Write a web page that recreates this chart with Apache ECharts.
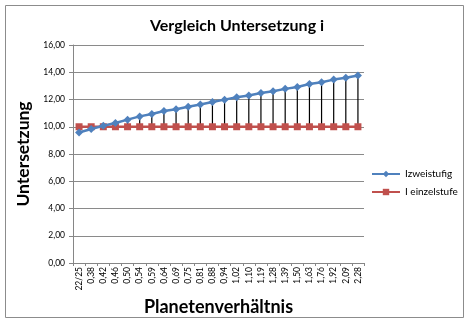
<!DOCTYPE html>
<html>
<head>
<meta charset="utf-8">
<script src="https://cdn.jsdelivr.net/npm/echarts@6/dist/echarts.min.js"></script>
<style>html,body{margin:0;padding:0;background:#fff}#c{width:471px;height:328px}</style>
</head>
<body>
<div id="c"></div>
<script>
var categories = ["22/25","0,38","0,42","0,46","0,50","0,54","0,59","0,64","0,69","0,75","0,81","0,88","0,94","1,02","1,10","1,19","1,28","1,39","1,50","1,63","1,76","1,92","2,09","2,28"];
var zweistufig = [9.58,9.83,10.07,10.27,10.52,10.76,10.93,11.15,11.28,11.47,11.64,11.82,11.99,12.16,12.29,12.48,12.60,12.78,12.92,13.14,13.27,13.46,13.59,13.76];
var einzelstufe = [10,10,10,10,10,10,10,10,10,10,10,10,10,10,10,10,10,10,10,10,10,10,10,10];
var yTicks = [0,2,4,6,8,10,12,14,16];

var font = 'Lato, "Open Sans", sans-serif';
var hilo = categories.map(function(c,i){return [i, einzelstufe[i], zweistufig[i]];});
var chart = echarts.init(document.getElementById('c'));
chart.setOption({
  animation:false,
  backgroundColor:'#fff',
  graphic:[{type:'rect',shape:{x:5.5,y:5.5,width:458,height:312},style:{fill:'none',stroke:'#8c8c8c',lineWidth:1}}],
  title:{text:'Vergleich Untersetzung i',left:232,top:13,textAlign:'center',textStyle:{fontFamily:font,fontSize:16,fontWeight:'bold',color:'#000'}},
  grid:{left:73,top:45,right:107,bottom:65},
  legend:{orient:'vertical',left:366,top:164,itemGap:8,itemWidth:28,itemHeight:8,
    textStyle:{fontFamily:font,fontSize:10,color:'#000'},
    data:[{name:'Izweistufig'},{name:'I einzelstufe'}]},
  xAxis:{type:'category',data:categories,boundaryGap:true,
    name:'Planetenverhältnis',nameLocation:'middle',nameGap:34,
    nameTextStyle:{fontFamily:font,fontSize:18,fontWeight:'bold',color:'#000'},
    axisLine:{lineStyle:{color:'#868686'}},
    axisTick:{show:true,length:3,lineStyle:{color:'#868686'}},
    axisLabel:{rotate:90,fontFamily:font,fontSize:8.5,color:'#000',interval:0,margin:4}},
  yAxis:{type:'value',min:0,max:16,interval:2,
    name:'Untersetzung',nameLocation:'middle',nameGap:36,
    nameTextStyle:{fontFamily:font,fontSize:17.5,fontWeight:'bold',color:'#000'},
    axisLine:{show:true,lineStyle:{color:'#868686'}},
    axisTick:{show:true,length:4,lineStyle:{color:'#868686'}},
    splitLine:{lineStyle:{color:'#8a8a8a'}},
    axisLabel:{fontFamily:font,fontSize:8.5,color:'#000',margin:8,
      formatter:function(v){return v.toFixed(2).replace('.',',');}}},
  series:[
    {type:'custom',name:'hilo',silent:true,z:1,
      renderItem:function(params,api){
        var p1=api.coord([api.value(0),api.value(1)]);
        var p2=api.coord([api.value(0),api.value(2)]);
        return {type:'line',shape:{x1:p1[0],y1:p1[1],x2:p2[0],y2:p2[1]},style:{stroke:'#000',lineWidth:1.2}};
      },
      encode:{x:0,y:[1,2]},data:hilo},
    {type:'line',name:'Izweistufig',data:zweistufig,z:3,symbol:'diamond',symbolSize:8,
      lineStyle:{color:'#4F81BD',width:2.5},itemStyle:{color:'#4F81BD'}},
    {type:'line',name:'I einzelstufe',data:einzelstufe,z:2,symbol:'rect',symbolSize:7,
      lineStyle:{color:'#C0504D',width:2.5},itemStyle:{color:'#C0504D'}}
  ]
});
</script>
</body>
</html>
